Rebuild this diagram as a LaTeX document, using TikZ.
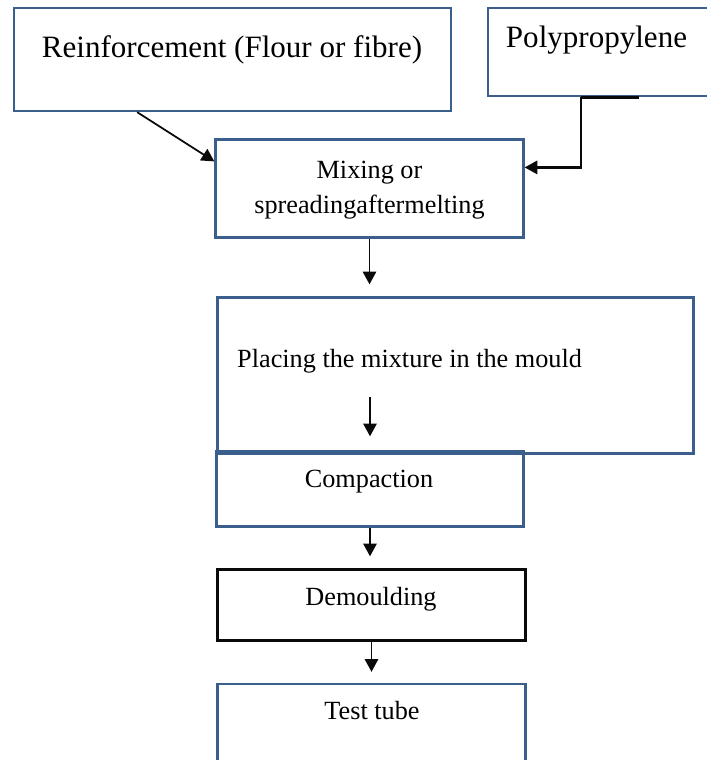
\documentclass[tikz,border=0pt]{standalone}
\usepackage{fontspec}
\setmainfont{Liberation Serif}
\usetikzlibrary{arrows.meta,calc}
\definecolor{frame}{RGB}{58,95,140}
\definecolor{ink}{RGB}{10,10,10}

\begin{document}
\begin{tikzpicture}[
  >={Triangle[length=0.38cm,width=0.40cm]},
  box/.style={rectangle,draw=frame,line width=2.0pt,inner sep=0pt},
  blackbox/.style={box,draw=ink},
  bigtext/.style={font=\fontsize{26.5}{30}\selectfont,inner sep=0pt,anchor=base},
  smalltext/.style={font=\fontsize{22.4}{27}\selectfont,inner sep=0pt,anchor=base},
  flow/.style={->,ink,line width=1.5pt},
  feed/.style={->,ink,line width=1.9pt}
]
\useasboundingbox (0.000,0.000) rectangle (21.180,-22.800);
% ================= boxes =================
\node[box,minimum width=13.110cm,minimum height=3.090cm] (reinf) at (6.975,-1.785) {};
\node[box,minimum width=7.560cm,minimum height=2.640cm] (poly) at (18.420,-1.560) {};
\node[box,minimum width=9.240cm,minimum height=2.940cm] (mix) at (11.085,-5.655) {};
\node[box,minimum width=14.280cm,minimum height=4.680cm] (place) at (13.665,-11.265) {};
\node[box,minimum width=9.210cm,minimum height=2.250cm] (compact) at (11.100,-14.670) {};
\node[blackbox,minimum width=9.240cm,minimum height=2.130cm] (demould) at (11.145,-18.150) {};
\node[box,minimum width=9.240cm,minimum height=3.480cm] (tube) at (11.145,-22.260) {};
% ================= texts =================
\node[bigtext] (reinfT) at (6.960,-1.710) {Reinforcement (Flour or fibre)};
\node[bigtext] (polyT) at (17.895,-1.410) {Polypropylene};
\node[smalltext] (mixA) at (11.085,-5.340) {Mixing or};
\node[smalltext] (mixB) at (11.085,-6.390) {spreadingaftermelting};
\node[smalltext,anchor=base west] (placeT) at (7.110,-11.010) {Placing the mixture in the mould};
\node[smalltext] (compactT) at (11.070,-14.610) {Compaction};
\node[smalltext] (demouldT) at (11.130,-18.150) {Demoulding};
\node[smalltext] (tubeT) at (11.160,-21.570) {Test tube};
% ================= connectors =================
\coordinate (polyfoot) at ($(poly.south west)!0.369!(poly.south east)$);
\draw[flow] ($(reinf.south west)!0.283!(reinf.south east)$) -- ($(mix.north west)!0.23!(mix.south west)$);
\draw[ink,line width=2.4pt] (polyfoot) -- ++(1.740,0);
\draw[feed] (polyfoot) |- ($(mix.north east)!0.29!(mix.south east)$);
\draw[flow,shorten >=0.36cm] (mix.south) -- (mix.south |- place.north);
\draw[flow,shorten >=0.42cm] ([yshift=1.60cm]compact.north) -- (compact.north);
\draw[flow,shorten >=0.36cm] (compact.south) -- (compact.south |- demould.north);
\draw[flow,shorten >=0.33cm] (demould.south) -- (demould.south |- tube.north);
\end{tikzpicture}
\end{document}
